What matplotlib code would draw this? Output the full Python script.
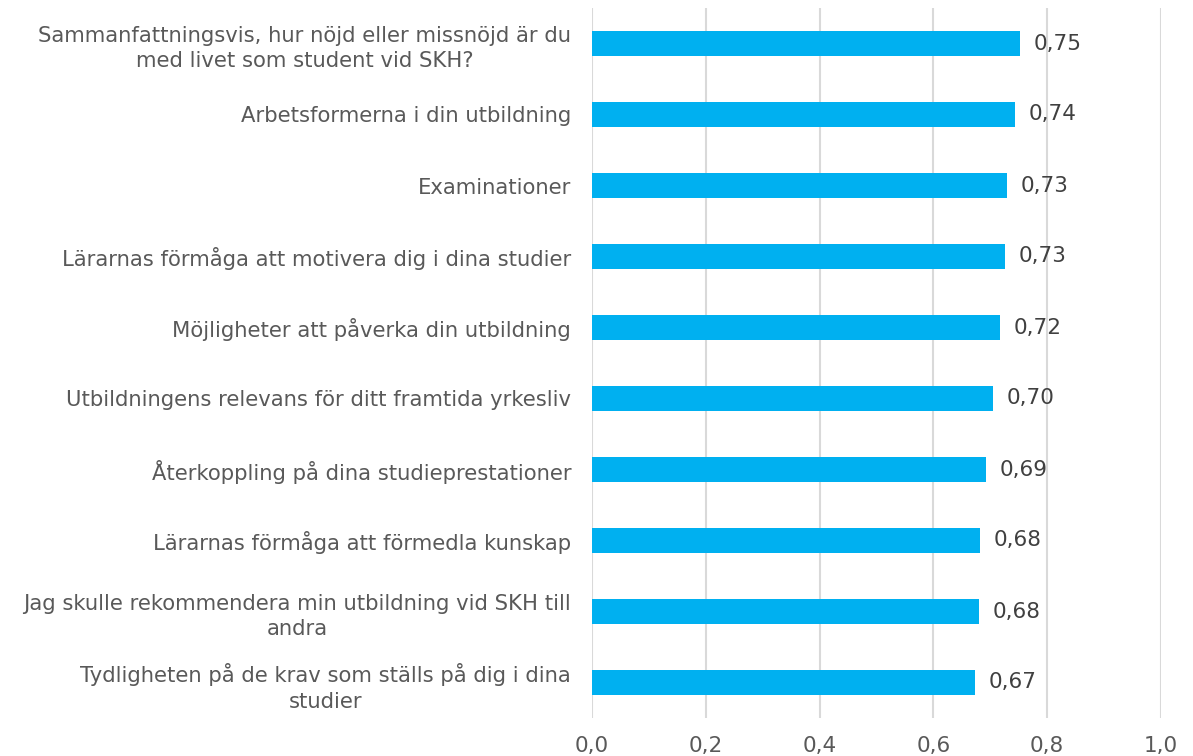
import matplotlib
matplotlib.use("Agg")
import matplotlib.pyplot as plt

categories = [
    "Sammanfattningsvis, hur nöjd eller missnöjd är du\nmed livet som student vid SKH?",
    "Arbetsformerna i din utbildning",
    "Examinationer",
    "Lärarnas förmåga att motivera dig i dina studier",
    "Möjligheter att påverka din utbildning",
    "Utbildningens relevans för ditt framtida yrkesliv",
    "Återkoppling på dina studieprestationer",
    "Lärarnas förmåga att förmedla kunskap",
    "Jag skulle rekommendera min utbildning vid SKH till\nandra",
    "Tydligheten på de krav som ställs på dig i dina\nstudier",
]
values = [0.752, 0.743, 0.729, 0.726, 0.717, 0.704, 0.692, 0.682, 0.680, 0.673]
value_labels = ["0,75", "0,74", "0,73", "0,73", "0,72", "0,70", "0,69", "0,68", "0,68", "0,67"]
xticks = [0.0, 0.2, 0.4, 0.6, 0.8, 1.0]
xtick_labels = ["0,0", "0,2", "0,4", "0,6", "0,8", "1,0"]

plt.rcParams['font.family'] = ['DejaVu Sans']
text_color = "#595959"
bar_color = "#00B0F0"

fig = plt.figure(figsize=(11.93, 7.56), dpi=100)
ax = fig.add_axes([592/1193, 1 - 718/756, (1161-592)/1193, 710/756])

y = list(range(len(categories)))
ax.barh(y, values, height=0.35, color=bar_color, zorder=3)
for yi, v, lab in zip(y, values, value_labels):
    ax.annotate(lab, (v, yi), xytext=(10, 0), textcoords="offset points",
                va="center", ha="left", fontsize=15.5, color="#404040")

ax.set_ylim(len(categories) - 0.5, -0.5)
ax.set_xlim(0, 1.0)
ax.set_yticks(y)
ax.set_yticklabels(categories, fontsize=15.2, color=text_color,
                   multialignment="center", linespacing=1.35)
ax.set_xticks(xticks)
ax.set_xticklabels(xtick_labels, fontsize=15.5, color=text_color)
ax.tick_params(axis="y", length=0, pad=15)
ax.tick_params(axis="x", length=0, pad=13)
ax.grid(axis="x", color="#D9D9D9", linewidth=1.5, zorder=0)
for s in ax.spines.values():
    s.set_visible(False)

fig.savefig("out.png", dpi=100)
